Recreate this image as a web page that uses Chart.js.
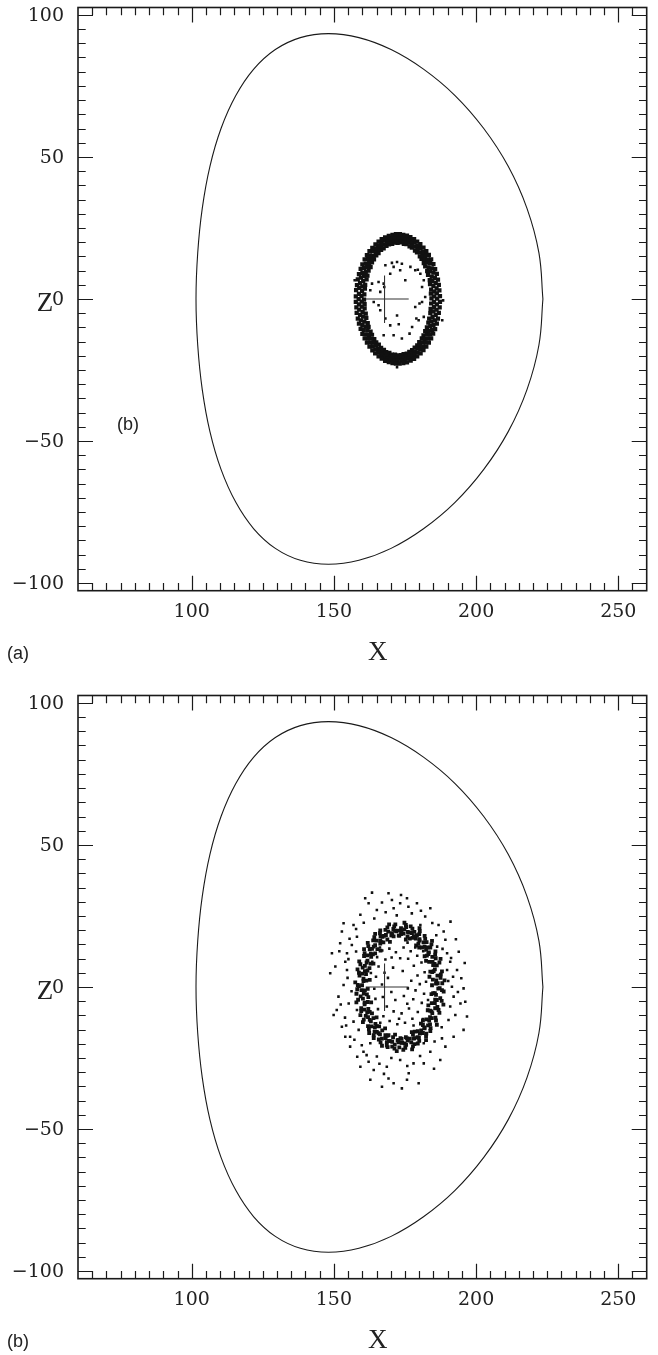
<!DOCTYPE html>
<html>
<head>
<meta charset="utf-8">
<script src="https://cdn.jsdelivr.net/npm/chart.js@4.4.1/dist/chart.umd.min.js"></script>
<style>
  html, body { margin: 0; padding: 0; background: #fff; }
  .panel { position: relative; width: 658px; }
  canvas { display: block; }
</style>
</head>
<body>
<div class="panel"><canvas id="chartA" width="658" height="688"></canvas></div>
<div class="panel"><canvas id="chartB" width="658" height="667"></canvas></div>
<script>
// Axis labels
const xTickLabels = [100, 150, 200, 250];
const zTickLabels = [-100, -50, 0, 50, 100];

// Plasma boundary (X, Z), starts/ends at the outboard point
const boundary = [
  [223.5, 0], [222.1, 16.2], [217.9, 31.9], [211.3, 46.7], [202.7, 60.0], [192.6, 71.6],
  [181.5, 80.9], [170.1, 87.8], [158.8, 92.0], [148.1, 93.4], [138.2, 92.0], [129.4, 87.8],
  [121.8, 80.9], [115.5, 71.6], [110.3, 60.0], [106.4, 46.7], [103.7, 31.9], [102.1, 16.2],
  [101.5, 0], [102.1, -16.2], [103.7, -31.9], [106.4, -46.7], [110.3, -60.0], [115.5, -71.6],
  [121.8, -80.9], [129.4, -87.8], [138.2, -92.0], [148.1, -93.4], [158.8, -92.0], [170.1, -87.8],
  [181.5, -80.9], [192.6, -71.6], [202.7, -60.0], [211.3, -46.7], [217.9, -31.9], [222.1, -16.2],
  [223.5, 0]
];

// Magnetic axis cross
const crossH = [[161.2, 0], [176.3, 0]];
const crossV = [[167.8, 8.3], [167.8, -8.5]];

// Panel (a): particle ring
const ringA = [
  [184.3,0.2],[184.1,1.9],[184.2,3.3],[183.8,5.2],[183.7,6.6],[183.1,8.5],[182.8,9.8],[182.1,11.5],[181.6,12.6],[180.8,14.1],
  [180.2,15.0],[179.2,16.4],[178.5,17.0],[177.4,18.1],[176.6,18.5],[175.5,19.3],[174.6,19.4],[173.5,19.9],[172.4,19.7],
  [160.7,1.6],[160.9,3.6],[161.0,5.0],[161.5,6.9],[161.8,8.2],[162.2,10.0],[162.9,11.2],[163.4,12.9],[164.1,13.9],
  [164.9,15.3],[165.7,16.1],[166.6,17.3],[167.5,17.8],[168.5,18.7],[169.4,19.2],[170.5,19.4],[171.4,19.8],
  [160.6,-0.2],[160.8,-1.8],[160.8,-3.3],[161.2,-5.2],[161.4,-6.7],[161.9,-8.5],[162.2,-9.8],[162.9,-11.5],[163.4,-12.6],
  [164.2,-14.1],[164.9,-15.3],[165.8,-16.1],[166.6,-17.2],[167.6,-17.9],[168.4,-18.7],[169.5,-19.0],[170.4,-19.6],[171.5,-19.6],[172.6,-19.9],
  [184.2,-1.6],[184.0,-3.5],[183.9,-5.0],[183.5,-6.9],[183.2,-8.3],[182.7,-10.0],[182.1,-11.3],[181.5,-12.8],[180.9,-13.9],
  [180.0,-15.2],[179.3,-16.3],[178.4,-17.1],[177.5,-18.0],[176.5,-18.6],[175.6,-19.2],[174.5,-19.4],[173.6,-19.8],
  [185.2,0.9],[185.3,2.6],[185.0,4.6],[184.6,6.3],[184.4,7.9],[183.8,9.7],[183.3,11.1],[182.6,12.8],[182.0,14.0],
  [181.1,15.4],[180.3,16.4],[179.4,17.6],[178.4,18.4],[177.4,19.3],[176.4,19.8],[175.2,20.4],[174.2,20.5],[173.0,20.9],
  [159.7,1.0],[159.9,2.8],[160.0,4.4],[160.3,6.3],[160.6,8.0],[161.2,9.5],[161.7,11.3],[162.4,12.6],[163.0,14.1],
  [163.9,15.2],[164.7,16.6],[165.6,17.5],[166.6,18.5],[167.6,19.1],[168.7,19.9],[169.7,20.2],[170.9,20.7],[171.9,20.8],
  [159.8,-0.9],[159.8,-2.7],[160.1,-4.6],[160.2,-6.2],[160.7,-8.0],[161.1,-9.7],[161.8,-11.1],[162.3,-12.7],[163.1,-14.0],
  [163.8,-15.4],[164.8,-16.4],[165.6,-17.6],[166.6,-18.4],[167.5,-19.3],[168.7,-19.8],[169.8,-20.4],[170.8,-20.5],[172.0,-20.8],
  [185.2,-1.0],[185.2,-2.8],[185.0,-4.4],[184.7,-6.3],[184.3,-7.9],[183.9,-9.6],[183.3,-11.2],[182.7,-12.6],[181.9,-14.1],
  [181.2,-15.3],[180.2,-16.5],[179.4,-17.5],[178.4,-18.5],[177.4,-19.2],[176.3,-19.9],[175.3,-20.3],[174.1,-20.6],[173.1,-20.8],
  [186.3,0.1],[186.2,2.0],[186.1,3.7],[185.8,5.7],[185.5,7.4],[185.0,9.3],[184.4,10.8],[183.8,12.6],[183.1,13.9],[182.3,15.5],
  [181.4,16.6],[180.4,17.9],[179.4,18.8],[178.3,19.8],[177.2,20.4],[176.1,21.1],[174.9,21.4],[173.7,21.8],[172.5,21.7],
  [158.8,1.8],[158.9,3.9],[159.2,5.6],[159.5,7.5],[160.0,9.1],[160.6,10.9],[161.2,12.4],[161.9,14.1],[162.7,15.3],
  [163.6,16.8],[164.6,17.8],[165.6,18.9],[166.7,19.7],[167.8,20.5],[168.9,21.0],[170.1,21.5],[171.3,21.7],
  [158.7,-0.1],[158.8,-1.9],[158.9,-3.8],[159.2,-5.6],[159.5,-7.5],[160.0,-9.2],[160.5,-10.9],[161.2,-12.5],[161.9,-14.0],
  [162.7,-15.4],[163.6,-16.7],[164.6,-17.8],[165.6,-18.9],[166.7,-19.7],[167.8,-20.5],[168.9,-21.0],[170.1,-21.5],[171.3,-21.7],[172.4,-21.8],
  [186.2,-1.9],[186.1,-3.8],[185.8,-5.6],[185.5,-7.5],[185.0,-9.2],[184.5,-10.9],[183.8,-12.5],[183.1,-14.0],[182.3,-15.4],
  [181.4,-16.7],[180.4,-17.8],[179.4,-18.9],[178.3,-19.7],[177.2,-20.5],[176.1,-21.0],[174.9,-21.5],[173.7,-21.7],
  [187.3,1.0],[187.1,3.0],[186.9,5.0],[186.6,6.8],[186.2,8.8],[185.6,10.5],[185.0,12.3],[184.2,13.9],[183.4,15.5],
  [182.5,16.8],[181.5,18.1],[180.4,19.3],[179.3,20.2],[178.2,21.1],[176.9,21.8],[175.7,22.3],[174.4,22.6],[173.2,22.8],
  [157.7,0.9],[157.8,3.1],[158.1,4.9],[158.4,6.9],[158.8,8.7],[159.4,10.6],[160.0,12.2],[160.8,13.9],[161.6,15.4],
  [162.5,16.8],[163.5,18.0],[164.6,19.2],[165.7,20.2],[166.8,21.1],[168.0,21.7],[169.3,22.2],[170.6,22.6],[171.8,22.8],
  [157.7,-1.0],[157.9,-3.0],[158.0,-4.9],[158.4,-6.9],[158.8,-8.7],[159.4,-10.5],[160.0,-12.3],[160.8,-13.9],[161.6,-15.4],
  [162.5,-16.8],[163.5,-18.1],[164.5,-19.2],[165.7,-20.2],[166.8,-21.0],[168.0,-21.8],[169.3,-22.2],[170.6,-22.6],[171.8,-22.8],
  [187.3,-1.0],[187.2,-3.0],[186.9,-4.9],[186.6,-6.9],[186.2,-8.7],[185.6,-10.6],[184.9,-12.2],[184.2,-13.9],[183.4,-15.4],
  [182.5,-16.8],[181.5,-18.0],[180.5,-19.2],[179.3,-20.2],[178.2,-21.1],[177.0,-21.7],[175.7,-22.3],[174.4,-22.6],[173.1,-22.8]
];

// Panel (a): scattered particles inside the ring
const strayA = [
  [168.1,11.9],[170.4,12.7],[172.2,13.0],[173.9,12.4],[169.8,8.9],[171.0,11.3],[176.9,11.3],[178.6,10.1],[179.5,10.3],
  [180.4,8.9],[181.6,6.6],[181.0,4.2],[182.1,0.7],[181.0,-1.1],[181.6,-6.3],[179.8,-7.5],[179.0,-6.9],[177.5,-9.9],
  [176.6,-12.2],[173.9,-13.9],[171.0,-12.8],[167.5,-12.8],[169.8,-9.3],[172.8,-8.9],[168.1,-6.9],[166.3,-4.0],[165.7,-2.2],
  [164.0,-1.1],[162.8,3.1],[163.4,5.4],[165.7,6.0],[167.5,5.4],[167.7,4.2],[166.3,2.5],[173.3,10.1],[175.1,6.6],
  [172.2,-5.8],[178.6,-2.8],[180.1,-1.6],[157.3,6.6],[188.4,-0.5],[172.2,-24.0],[188.1,-7.5]
];

// Panel (b): broadened ring
const ringB = [
  [184.5,0.6],[183.6,3.6],[183.9,5.4],[182.4,9.2],[181.9,10.8],[180.0,13.9],[178.9,14.6],[176.7,17.0],[175.3,16.7],[173.0,18.1],
  [162.6,2.5],[162.5,6.6],[163.9,8.2],[164.5,11.8],[166.4,12.8],[167.4,15.7],[169.7,15.9],[171.0,17.8],
  [161.9,-0.7],[162.1,-3.6],[163.1,-5.4],[163.4,-9.3],[165.0,-10.7],[165.9,-13.9],[168.0,-14.6],[169.2,-17.0],[171.5,-16.8],[173.4,-18.0],
  [184.3,-2.5],[183.2,-6.5],[183.0,-8.2],[181.3,-11.8],[180.6,-12.9],[178.4,-15.7],[177.4,-15.9],[175.3,-17.7],
  [185.9,1.2],[185.1,5.6],[184.9,7.7],[183.2,11.6],[182.4,13.1],[180.1,16.3],[178.8,17.0],[176.2,19.1],[174.5,18.8],
  [160.4,2.1],[161.3,4.5],[161.5,8.6],[163.1,10.6],[164.0,14.2],[166.3,15.3],[167.6,18.0],[170.2,18.2],[171.9,19.6],
  [160.9,-1.2],[160.8,-5.5],[162.1,-7.7],[162.6,-11.6],[164.6,-13.0],[165.7,-16.3],[168.1,-17.0],[169.7,-19.1],[172.4,-18.8],
  [185.5,-2.2],[185.6,-4.5],[184.3,-8.6],[183.8,-10.6],[181.8,-14.2],[180.7,-15.3],[178.3,-18.0],[176.7,-18.2],[174.0,-19.6],
  [187.2,-0.4],[187.5,3.2],[186.2,7.6],[185.8,10.1],[183.9,13.9],[182.6,15.8],[180.0,18.6],[178.3,19.4],[175.4,21.1],[173.6,20.7],
  [159.0,4.0],[160.1,6.8],[160.6,10.9],[162.6,13.2],[163.8,16.4],[166.4,17.8],[168.1,20.1],[170.9,20.4],
  [158.8,0.3],[159.4,-3.3],[159.6,-7.5],[161.2,-10.2],[162.0,-13.8],[164.3,-15.8],[165.8,-18.5],[168.6,-19.4],[170.5,-21.0],[173.0,-21.3],
  [187.4,-3.9],[186.4,-7.0],[185.7,-10.8],[183.8,-13.2],[182.5,-16.4],[179.9,-17.9],[178.3,-20.1],[175.4,-20.4],
  [188.9,2.3],[188.0,5.5],[187.5,9.9],[185.7,12.5],[184.5,16.2],[181.9,18.0],[180.1,20.7],[177.0,21.3],[174.8,22.6],
  [157.5,1.6],[158.3,6.2],[158.9,9.0],[160.6,13.3],[161.9,15.5],[164.5,18.7],[166.3,19.9],[169.4,22.0],[171.6,22.0],
  [157.9,-2.4],[157.9,-5.4],[159.3,-9.9],[160.2,-12.4],[162.4,-16.2],[164.0,-18.0],[166.9,-20.7],[168.9,-21.2],[172.1,-22.6],
  [188.6,-1.6],[188.5,-6.2],[187.1,-9.1],[186.2,-13.3],[183.9,-15.5],[182.4,-18.7],[179.5,-19.9],[177.5,-22.0],[174.4,-22.1],
  [186.5,1.3],[186.4,4.0],[185.4,8.1],[184.6,10.6],[182.9,13.9],[181.5,15.7],[179.2,18.2],[177.4,19.0],[174.8,20.3],
  [159.9,0.6],[160.0,4.7],[160.9,7.4],[161.8,11.1],[163.4,13.4],[165.0,16.3],[167.1,17.6],[169.1,19.5],[171.5,19.8],
  [159.7,-1.1],[160.2,-4.1],[160.7,-8.0],[162.0,-10.6],[163.2,-13.9],[165.1,-15.8],[166.9,-18.2],[169.3,-19.0],[171.4,-20.3],
  [186.7,-0.6],[186.2,-4.6],[185.6,-7.5],[184.4,-11.0],[183.1,-13.5],[181.3,-16.2],[179.4,-17.7],[177.2,-19.5],[174.9,-19.9],
  [184.8,2.6],[184.6,5.2],[183.5,8.8],[182.7,11.0],[181.0,13.9],[179.7,15.2],[177.6,17.3],[175.9,17.7],[173.6,18.6],
  [161.4,2.2],[161.8,5.8],[162.9,8.2],[163.7,11.5],[165.3,13.3],[166.7,15.8],[168.8,16.7],[170.5,18.2],[172.8,18.1],
  [161.6,-2.6],[161.9,-5.3],[162.6,-8.8],[163.9,-11.0],[165.1,-13.8],[167.0,-15.3],[168.6,-17.2],[170.8,-17.7],[172.6,-18.6],
  [184.9,-2.2],[184.4,-5.7],[183.8,-8.3],[182.5,-11.4],[181.3,-13.4],[179.5,-15.6],[177.8,-16.8],[175.7,-18.1],[173.8,-18.3],
  [188.1,1.3],[187.6,4.4],[187.1,8.6],[185.6,11.4],[184.3,15.0],[182.1,16.9],[180.2,19.6],[177.6,20.5],[175.3,21.8],
  [158.4,0.7],[158.8,5.0],[159.3,8.0],[160.8,11.9],[162.1,14.4],[164.2,17.5],[166.2,18.9],[168.8,21.0],[171.2,21.3],
  [158.2,-0.8],[158.5,-4.5],[159.6,-8.5],[160.5,-11.5],[162.3,-14.9],[164.0,-17.0],[166.4,-19.5],[168.6,-20.6],[171.3,-21.7],
  [188.0,-1.1],[187.9,-4.9],[186.8,-8.1],[185.9,-11.8],[184.0,-14.5],[182.4,-17.4],[180.0,-19.0],[177.8,-20.9],[175.1,-21.4],
  [186.0,2.3],[185.5,6.2],[184.7,8.8],[183.4,12.2],[181.9,14.2],[180.1,16.8],[178.1,17.9],[176.0,19.4],[173.8,19.4],
  [160.4,2.9],[160.9,5.6],[161.8,9.3],[163.0,11.7],[164.5,14.7],[166.3,16.3],[168.3,18.3],[170.4,18.9],[172.6,19.8],
  [160.5,-2.3],[160.8,-6.1],[161.7,-8.9],[163.0,-12.1],[164.4,-14.3],[166.2,-16.7],[168.2,-18.0],[170.5,-19.3],[172.7,-19.5],
  [185.9,-2.8],[185.5,-5.7],[184.6,-9.2],[183.5,-11.8],[181.9,-14.6],[180.2,-16.4],[178.1,-18.2],[176.0,-18.9],[173.8,-19.7]
];

// Panel (b): particles inside the ring
const coreB = [
  [165.2,10.5],[167.0,12.8],[169.5,13.5],[171.8,12.2],[174.5,13.9],[177.0,12.6],[179.3,11.0],[180.8,8.6],[181.9,5.2],
  [182.4,1.8],[181.7,-2.4],[180.9,-5.6],[179.5,-8.8],[177.6,-11.2],[175.0,-12.6],[172.3,-13.1],[169.6,-12.0],[167.4,-10.3],
  [165.5,-7.8],[164.6,-4.2],[164.2,-0.6],[164.8,3.6],[165.7,7.2],[168.1,9.7],[170.3,10.4],[173.3,10.1],[176.1,9.9],
  [178.1,7.5],[179.4,4.0],[178.7,-1.2],[177.9,-4.3],[176.4,-7.6],[173.8,-9.3],[171.0,-8.6],[168.6,-6.9],[167.2,-3.5],
  [166.9,0.9],[167.8,5.0],[171.6,-4.6],[174.6,-3.2],[176.0,-0.5],[170.2,-1.8],[169.0,3.2],[180.2,1.0],[175.8,-5.9],
  [166.3,-12.6],[182.9,-8.1],[163.5,8.9],[178.6,13.9],[168.2,-14.7],[175.9,15.6],[181.3,-11.3],
  [170.8,6.8],[174.2,5.6],[177.2,2.2],[163.1,-9.4],[183.1,-4.6],[163.0,4.9],[172.9,-11.2],[178.0,-13.6],[166.2,13.9],[181.4,12.6]
];

// Panel (b): particles that left the ring
const haloB = [
  [163.4,33.2],[169.2,33.0],[161.0,31.2],[166.9,29.7],[170.4,30.6],[175.7,31.2],[173.3,29.5],[179.2,29.5],[183.9,27.7],
  [159.3,25.4],[156.9,21.8],[153.4,22.4],[152.8,19.5],[156.3,14.8],[149.3,11.9],[150.5,7.2],[148.7,4.8],[153.4,0.7],
  [151.6,-3.4],[149.9,-9.9],[152.8,-14.0],[154.0,-17.5],[155.7,-21.0],[160.4,-22.8],[162.2,-26.3],[164.0,-29.2],
  [169.2,-32.2],[173.9,-35.7],[171.0,-33.9],[176.3,-30.4],[179.8,-33.9],[181.6,-26.9],[187.4,-25.7],[189.2,-21.0],
  [192.1,-17.5],[195.6,-15.1],[192.7,-9.9],[196.2,-5.2],[195.6,-0.5],[193.3,6.0],[190.9,8.9],[193.9,12.4],[189.2,16.6],
  [191.0,23.0],[186.8,21.8],[188.6,19.5],[182.1,24.8],[154.6,6.0],[155.2,-5.8],[156.9,-12.2],[165.1,-24.5],[168.6,-28.1],
  [173.3,-25.7],[178.0,-26.9],[183.9,-22.8],[159.3,-28.1],[162.8,-32.7],[155.7,-17.5],[151.0,-8.1],[196.8,-10.4],
  [194.5,-5.8],[191.5,0.1],[192.1,-3.4],[191.9,3.6],[189.8,11.9],[186.3,14.2],[158.1,17.7],[154.6,11.9],[154.0,8.9],
  [158.1,-8.1],[158.7,-15.1],[165.1,27.1],[177.4,25.9],[171.0,27.7],[180.4,21.8],[188.0,-18.1],[181.6,-19.8],
  [162.8,-19.8],[158.1,-2.2],[189.8,6.0],[152.2,15.4],[162.2,29.5],[166.9,-35.1],[175.7,-32.7],
  [155.5,17.0],[157.8,12.5],[154.8,3.2],[156.2,-1.5],[153.9,-10.8],[157.2,-18.6],[159.8,-20.5],[161.5,-24.0],
  [166.0,-27.0],[170.2,-25.0],[175.8,-27.8],[180.3,-24.3],[185.4,-19.2],[187.9,-14.2],[190.3,-11.6],[190.9,-6.9],
  [193.6,-1.8],[190.2,2.1],[191.2,10.2],[188.2,13.4],[186.0,18.2],[184.6,22.5],[180.6,26.8],[176.2,28.2],
  [172.1,25.2],[168.2,26.3],[164.2,24.1],[160.5,22.6],[157.8,20.4],[155.1,9.8],[152.4,-6.2],[154.3,-13.6],
  [151.9,12.6],[194.8,3.1],[192.9,16.8],[185.2,-28.8],[167.6,-30.6],[173.6,32.4],[158.2,-24.6],[196.0,8.4]
];

const toXY = pts => pts.map(([x, y]) => ({ x, y }));

const INK = '#1a1a1a';

// Frame, inward ticks, tick labels and captions drawn against the chart scales
const framePlugin = {
  id: 'frame',
  afterDatasetsDraw(chart, args, opts) {
    const { ctx, chartArea: a, scales: { x, y } } = chart;
    ctx.save();
    ctx.strokeStyle = INK;
    ctx.lineWidth = 1.6;
    ctx.strokeRect(a.left, a.top, a.right - a.left, a.bottom - a.top);

    ctx.lineWidth = 1.2;
    ctx.beginPath();
    for (let v = 65; v < 260; v += 5) {
      const len = v % 50 === 0 ? 15 : 7.7;
      const px = Math.round(x.getPixelForValue(v)) + 0.5;
      ctx.moveTo(px, a.bottom); ctx.lineTo(px, a.bottom - len);
      ctx.moveTo(px, a.top); ctx.lineTo(px, a.top + len);
    }
    for (let v = -100; v <= 100; v += 5) {
      const len = v % 50 === 0 ? 15 : 7.7;
      const py = Math.round(y.getPixelForValue(v)) + 0.5;
      ctx.moveTo(a.left, py); ctx.lineTo(a.left + len, py);
      ctx.moveTo(a.right, py); ctx.lineTo(a.right - len, py);
    }
    ctx.stroke();

    ctx.fillStyle = '#222';
    ctx.font = '19px "DejaVu Serif"';
    ctx.textAlign = 'right';
    ctx.textBaseline = 'middle';
    zTickLabels.forEach(v => {
      const t = v < 0 ? '\u2212' + Math.abs(v) : String(v);
      ctx.fillText(t, a.left - 14, y.getPixelForValue(v) + 1);
    });
    ctx.textAlign = 'center';
    xTickLabels.forEach(v => {
      ctx.fillText(String(v), x.getPixelForValue(v), a.bottom + 21);
    });

    ctx.font = '27px "Liberation Serif"';
    ctx.fillText('X', x.getPixelForValue(165.4), a.bottom + 62);
    ctx.fillText('Z', 45, y.getPixelForValue(0) + 5);

    ctx.font = '18px "Liberation Sans"';
    ctx.textAlign = 'left';
    ctx.fillText(opts.tag, 7, a.bottom + 63);
    if (opts.inner) ctx.fillText(opts.inner, 117, y.getPixelForValue(-44.5));
    ctx.restore();
  }
};

function makePanel(id, ringPts, ringSize, looseSets, tag, inner) {
  const datasets = [
    { data: toXY(boundary), showLine: true, borderColor: INK, borderWidth: 1.1, pointRadius: 0, tension: 0.4, fill: false },
    { data: toXY(crossH), showLine: true, borderColor: '#333', borderWidth: 1.1, pointRadius: 0 },
    { data: toXY(crossV), showLine: true, borderColor: '#333', borderWidth: 1.1, pointRadius: 0 },
    { data: toXY(ringPts), pointStyle: 'rect', pointRadius: ringSize, pointBorderWidth: 0, backgroundColor: '#111' }
  ];
  looseSets.forEach(s => datasets.push({
    data: toXY(s), pointStyle: 'rect', pointRadius: 1.8, pointBorderWidth: 0, backgroundColor: '#111'
  }));
  return new Chart(document.getElementById(id), {
    type: 'scatter',
    data: { datasets },
    options: {
      responsive: false,
      animation: false,
      events: [],
      layout: { padding: { left: 78, right: 11.3, top: 7.5, bottom: id === 'chartA' ? 97.3 : 76.3 } },
      scales: {
        x: { type: 'linear', min: 60, max: 260, display: false },
        y: { type: 'linear', min: -102.7, max: 102.6, display: false }
      },
      plugins: {
        legend: { display: false },
        tooltip: { enabled: false },
        frame: { tag, inner }
      }
    },
    plugins: [framePlugin]
  });
}

makePanel('chartA', ringA, 3.0, [strayA], '(a)', '(b)');
makePanel('chartB', ringB, 2.7, [coreB, haloB], '(b)', null);
</script>
</body>
</html>
